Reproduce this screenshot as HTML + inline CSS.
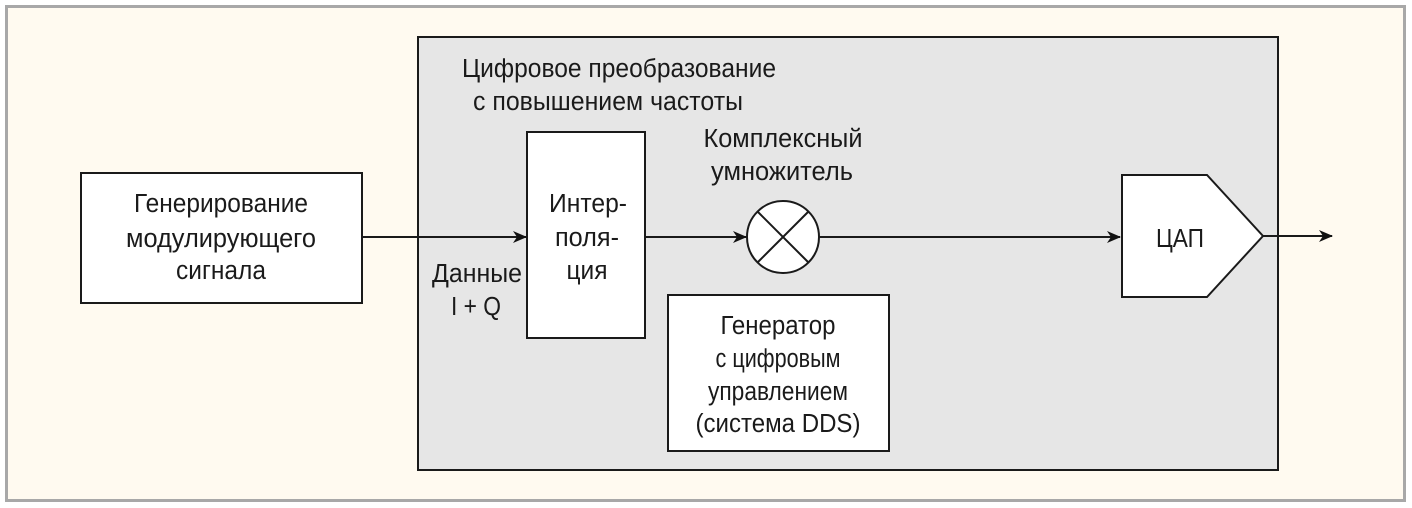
<!DOCTYPE html>
<html><head><meta charset="utf-8"><style>
html,body{margin:0;padding:0;background:#fff;}
svg{display:block;}
text{font-family:"Liberation Sans Narrow","Liberation Sans",sans-serif;font-size:25.5px;fill:#1a1a1a;}
</style></head><body>
<svg width="1412" height="508" viewBox="0 0 1412 508" xmlns="http://www.w3.org/2000/svg">
<defs><marker id="a" markerWidth="14" markerHeight="12" refX="13" refY="6" orient="auto" markerUnits="userSpaceOnUse"><path d="M0,0 L14,6 L0,12 L4,6 Z" fill="#111"/></marker></defs>
<rect x="0" y="0" width="1412" height="508" fill="#fff"/>
<rect x="6.5" y="6.5" width="1398" height="494" fill="#fffaf0" stroke="#a8a8a8" stroke-width="3"/>
<rect x="418" y="37" width="860" height="433" fill="#e6e6e6" stroke="#1a1a1a" stroke-width="2"/>
<rect x="81" y="173" width="281" height="130" fill="#fff" stroke="#1a1a1a" stroke-width="2"/>
<rect x="527" y="132" width="118" height="206" fill="#fff" stroke="#1a1a1a" stroke-width="2"/>
<rect x="668" y="295" width="221" height="156" fill="#fff" stroke="#1a1a1a" stroke-width="2"/>
<polygon points="1122,175 1207,175 1263,236 1207,297 1122,297" fill="#fff" stroke="#1a1a1a" stroke-width="2"/>
<ellipse cx="783" cy="237" rx="36" ry="36" fill="#fff" stroke="#1a1a1a" stroke-width="2"/>
<line x1="758" y1="212" x2="808" y2="262" stroke="#1a1a1a" stroke-width="2"/>
<line x1="808" y1="212" x2="758" y2="262" stroke="#1a1a1a" stroke-width="2"/>
<g stroke="#1a1a1a" stroke-width="2">
<line x1="362" y1="237" x2="526" y2="237" marker-end="url(#a)"/>
<line x1="645" y1="237" x2="746" y2="237" marker-end="url(#a)"/>
<line x1="819" y1="237" x2="1120" y2="237" marker-end="url(#a)"/>
<line x1="1263" y1="236" x2="1332" y2="236" marker-end="url(#a)"/>
</g>
<g text-anchor="middle">
<text x="619" y="77" textLength="314" lengthAdjust="spacingAndGlyphs">Цифровое преобразование</text>
<text x="608" y="110" textLength="270" lengthAdjust="spacingAndGlyphs">с повышением частоты</text>
<text x="783" y="147" textLength="159" lengthAdjust="spacingAndGlyphs">Комплексный</text>
<text x="782" y="180" textLength="142" lengthAdjust="spacingAndGlyphs">умножитель</text>
<text x="221" y="212" textLength="174" lengthAdjust="spacingAndGlyphs">Генерирование</text>
<text x="221" y="247" textLength="190" lengthAdjust="spacingAndGlyphs">модулирующего</text>
<text x="221" y="279" textLength="90" lengthAdjust="spacingAndGlyphs">сигнала</text>
<text x="588" y="212" textLength="78" lengthAdjust="spacingAndGlyphs">Интер-</text>
<text x="587" y="246" textLength="64" lengthAdjust="spacingAndGlyphs">поля-</text>
<text x="587" y="279" textLength="41" lengthAdjust="spacingAndGlyphs">ция</text>
<text x="477" y="282" textLength="90" lengthAdjust="spacingAndGlyphs">Данные</text>
<text x="476" y="315" textLength="50" lengthAdjust="spacingAndGlyphs">I + Q</text>
<text x="778" y="334" textLength="115" lengthAdjust="spacingAndGlyphs">Генератор</text>
<text x="778" y="367" textLength="125" lengthAdjust="spacingAndGlyphs">с цифровым</text>
<text x="778" y="400" textLength="140" lengthAdjust="spacingAndGlyphs">управлением</text>
<text x="778" y="432" textLength="165" lengthAdjust="spacingAndGlyphs">(система DDS)</text>
<text x="1180" y="247" textLength="48" lengthAdjust="spacingAndGlyphs">ЦАП</text>
</g>
</svg>
</body></html>
